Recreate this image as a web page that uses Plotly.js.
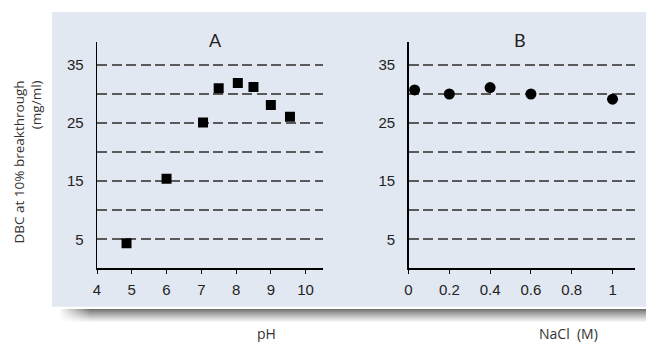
<!DOCTYPE html>
<html>
<head>
<meta charset="utf-8">
<script src="https://cdn.plot.ly/plotly-3.0.1.min.js"></script>
<style>html,body{margin:0;padding:0;background:#fff;}#chart{width:646px;height:342px;}</style>
</head>
<body>
<div id="chart"></div>
<script>
// ---- data ----
const phValues   = [4.85, 6.0, 7.05, 7.5, 8.05, 8.5, 9.0, 9.55];
const dbcPh      = [4.3, 15.4, 25.1, 31.0, 31.9, 31.2, 28.1, 26.1];
const naclValues = [0.03, 0.2, 0.4, 0.6, 1.0];
const dbcNacl    = [30.7, 30.0, 31.1, 30.0, 29.1];

const yTickVals  = [5, 10, 15, 20, 25, 30, 35];
const yTickText  = ['5', '', '15', '', '25', '', '35'];
const phTicks    = [4, 5, 6, 7, 8, 9, 10];
const naclTicks  = [0, 0.2, 0.4, 0.6, 0.8, 1];
const naclText   = ['0', '0.2', '0.4', '0.6', '0.8', '1'];

const panelTitles = ['A', 'B'];
const xTitles     = ['pH', 'NaCl  (M)'];
const yTitle      = 'DBC at 10% breakthrough<br>(mg/ml)';

// ---- helpers ----
const W = 646, H = 342;
const px = v => v / W;
const py = v => 1 - v / H;

const traces = [
  {x: phValues, y: dbcPh, xaxis: 'x', yaxis: 'y', mode: 'markers', type: 'scatter',
   marker: {symbol: 'square', size: 10, color: '#000'}, hoverinfo: 'x+y'},
  {x: naclValues, y: dbcNacl, xaxis: 'x2', yaxis: 'y2', mode: 'markers', type: 'scatter',
   marker: {symbol: 'circle', size: 11, color: '#000'}, hoverinfo: 'x+y'}
];

const tickFont = {family: 'Liberation Sans, Arial, sans-serif', size: 15, color: '#222'};
const yCommon = {
  range: [0, 39], domain: [py(268.3), py(41.7)],
  tickvals: yTickVals, ticktext: yTickText,
  ticks: 'outside', ticklen: 9, tickcolor: 'rgba(0,0,0,0)',
  showline: true, linecolor: '#000', linewidth: 1.3,
  showgrid: true, gridcolor: '#5a5a5a', gridwidth: 1.6, griddash: '10px,4.5px',
  zeroline: false, tickfont: tickFont, fixedrange: true
};
const xCommon = {
  ticks: 'outside', ticklen: 4, tickcolor: '#000', tickwidth: 1,
  ticklabelstandoff: 3,
  showline: true, linecolor: '#000', linewidth: 1.3,
  showgrid: false, zeroline: false, tickfont: tickFont, fixedrange: true
};

// panel background and shadow below panel
const shapes = [
  {type: 'rect', xref: 'paper', yref: 'paper', layer: 'below',
   x0: px(52), x1: 1, y0: py(306.7), y1: py(12),
   fillcolor: '#e2e8f2', line: {width: 0}}
];
const shadowRows = 14;
for (let i = 0; i < shadowRows; i++) {
  const t = i / (shadowRows - 1);
  const g = Math.round(115 + (255 - 115) * Math.pow(t, 0.9));
  shapes.push({type: 'rect', xref: 'paper', yref: 'paper', layer: 'below',
    x0: px(58), x1: 1, y0: py(309 + i + 1), y1: py(309 + i),
    fillcolor: `rgb(${g},${g},${g})`, line: {width: 0}});
}
const fadeCols = 16;
for (let j = 0; j < fadeCols; j++) {
  const op = 1 - j / fadeCols;
  shapes.push({type: 'rect', xref: 'paper', yref: 'paper', layer: 'below',
    x0: px(58 + j * 2), x1: px(60 + j * 2), y0: py(324), y1: py(308),
    fillcolor: `rgba(255,255,255,${op.toFixed(3)})`, line: {width: 0}});
}

const titleFont = {family: 'Lato, Open Sans, sans-serif', size: 18, color: '#222'};
const axTitleFont = {family: 'Open Sans, sans-serif', size: 14, color: '#333'};
const yTitleFont = {family: 'Open Sans, sans-serif', size: 13.5, color: '#333'};

const annotations = [
  {text: panelTitles[0], xref: 'paper', yref: 'paper', x: px(215), y: py(40),
   xanchor: 'center', yanchor: 'middle', showarrow: false, font: titleFont},
  {text: panelTitles[1], xref: 'paper', yref: 'paper', x: px(520), y: py(40),
   xanchor: 'center', yanchor: 'middle', showarrow: false, font: titleFont},
  {text: xTitles[0], xref: 'paper', yref: 'paper', x: px(266), y: py(333),
   xanchor: 'center', yanchor: 'middle', showarrow: false, font: axTitleFont},
  {text: xTitles[1], xref: 'paper', yref: 'paper', x: px(568), y: py(333),
   xanchor: 'center', yanchor: 'middle', showarrow: false, font: axTitleFont},
  {text: yTitle, xref: 'paper', yref: 'paper', x: px(27.5), y: py(162),
   xanchor: 'center', yanchor: 'middle', showarrow: false, textangle: -90,
   align: 'right', font: yTitleFont}
];

const layout = {
  width: W, height: H,
  margin: {l: 0, r: 0, t: 0, b: 0, pad: 0},
  paper_bgcolor: '#ffffff', plot_bgcolor: 'rgba(0,0,0,0)',
  showlegend: false,
  xaxis: Object.assign({}, xCommon, {domain: [px(97), px(323)], range: [4, 10.5],
    tickvals: phTicks, anchor: 'y'}),
  yaxis: Object.assign({}, yCommon, {anchor: 'x'}),
  xaxis2: Object.assign({}, xCommon, {domain: [px(408.5), px(635)], range: [0, 1.11],
    tickvals: naclTicks, ticktext: naclText, anchor: 'y2'}),
  yaxis2: Object.assign({}, yCommon, {anchor: 'x2'}),
  shapes: shapes,
  annotations: annotations
};

Plotly.newPlot('chart', traces, layout, {displayModeBar: false, staticPlot: true});
</script>
</body>
</html>
